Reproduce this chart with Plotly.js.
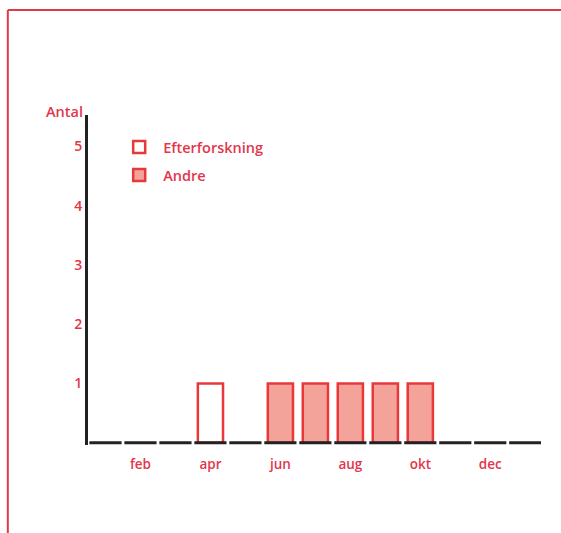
<!DOCTYPE html>
<html>
<head>
<meta charset="utf-8">
<script src="https://cdn.plot.ly/plotly-3.0.1.min.js"></script>
<style>
html,body{margin:0;padding:0;background:#fff;}
#chart{width:561px;height:533px;}
</style>
</head>
<body>
<div id="chart"></div>
<script>
// Data
const months = [1,2,3,4,5,6,7,8,9,10,11,12,13];
const tickVals = [2,4,6,8,10,12];
const tickLabels = ['feb','apr','jun','aug','okt','dec'];
const efterX = [4];
const efterY = [1];
const andreX = [6,7,8,9,10];
const andreY = [1,1,1,1,1];
const yTicks = [1,2,3,4,5];

const red = '#e2364c';
const barRed = '#e8383a';
const dark = '#222222';
const fnt = 'Open Sans';

const traces = [
  {type:'bar', name:'Efterforskning', x:efterX, y:efterY, width:0.72, legendgroup:'a',
   marker:{color:'#ffffff', line:{color:barRed, width:2.5}}},
  {type:'bar', name:'Andre', x:andreX, y:andreY, width:0.72, legendgroup:'b',
   marker:{color:'#f4a39b', line:{color:barRed, width:2.5}}}
];

const shapes = months.map(m => ({
  type:'line', xref:'x', yref:'y', x0:m-0.46, x1:m+0.46, y0:0, y1:0,
  line:{color:dark, width:3}
}));
// outer frame (left and top edges)
shapes.push({type:'line', xref:'paper', yref:'paper', x0:-0.177, x1:1.1, y0:1.318, y1:1.318, line:{color:'#e03a4a', width:2}});
shapes.push({type:'line', xref:'paper', yref:'paper', x0:-0.177, x1:-0.177, y0:1.318, y1:-0.35, line:{color:'#e03a4a', width:2}});

const layout = {
  width:561, height:533,
  margin:{l:88, r:20, t:115, b:88},
  paper_bgcolor:'#ffffff', plot_bgcolor:'#ffffff',
  barmode:'overlay',
  showlegend:true,
  legend:{x:0.06, y:0.951, xanchor:'left', yanchor:'top', bgcolor:'rgba(0,0,0,0)',
    font:{family:fnt, size:14.5, color:red, weight:600}, tracegroupgap:6, itemwidth:38},
  font:{family:fnt, color:red, weight:600},
  xaxis:{range:[0.5,13.45], tickmode:'array', tickvals:tickVals, ticktext:tickLabels,
    showgrid:false, zeroline:false, showline:false, ticks:'', ticklabelstandoff:9,
    tickfont:{family:fnt, size:13.5, color:red, weight:600}},
  yaxis:{range:[-0.04,5.53], tickmode:'array', tickvals:yTicks, showgrid:false, zeroline:false,
    showline:true, linecolor:dark, linewidth:3, ticks:'inside', ticklen:3, tickwidth:2, tickcolor:'#ffffff',
    tickfont:{family:fnt, size:14, color:red, weight:600}},
  shapes:shapes,
  annotations:[{text:'Antal', xref:'paper', yref:'paper', x:-0.007, y:1.012, xanchor:'right', yanchor:'middle',
    showarrow:false, font:{family:fnt, size:14.5, color:red, weight:600}}]
};

Plotly.newPlot('chart', traces, layout, {displayModeBar:false, staticPlot:true});
</script>
</body>
</html>
